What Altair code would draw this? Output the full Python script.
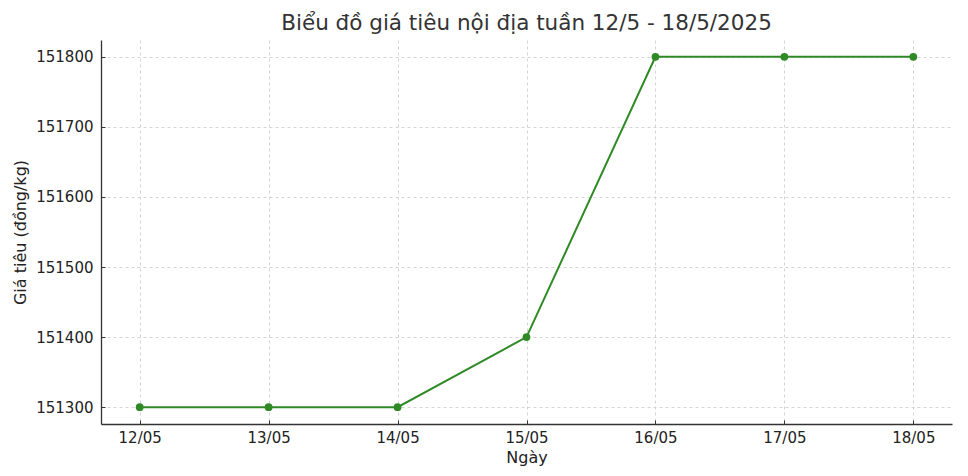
import altair as alt
import pandas as pd

dates = ["12/05", "13/05", "14/05", "15/05", "16/05", "17/05", "18/05"]
prices = [151300, 151300, 151300, 151400, 151800, 151800, 151800]
y_ticks = [151300, 151400, 151500, 151600, 151700, 151800]

df = pd.DataFrame({"date": dates, "price": prices})

FONT = "DejaVu Sans"
GREEN = "#2f8a26"
Y_DOMAIN = [151276, 151824]

x_enc = alt.X(
    "date:O",
    sort=dates,
    scale=alt.Scale(type="point", padding=0.3),
    axis=alt.Axis(
        title="Ngày",
        labelAngle=0,
        ticks=False,
        labelPadding=6,
        grid=True,
        gridDash=[3, 3],
        gridColor="#d4d4d4",
        domainColor="#333333",
        domainWidth=1.3,
        labelFontSize=15,
        titleFontSize=16,
        labelColor="#222222",
        titleColor="#222222",
        titleFontWeight="normal",
        titlePadding=4,
    ),
)
y_enc = alt.Y(
    "price:Q",
    scale=alt.Scale(domain=Y_DOMAIN, nice=False, zero=False),
    axis=alt.Axis(
        title="Giá tiêu (đồng/kg)",
        values=y_ticks,
        format="d",
        ticks=False,
        labelPadding=8,
        grid=True,
        gridDash=[3, 3],
        gridColor="#d4d4d4",
        domainColor="#333333",
        domainWidth=1.3,
        labelFontSize=15,
        titleFontSize=16,
        labelColor="#222222",
        titleColor="#222222",
        titleFontWeight="normal",
        titlePadding=7,
    ),
)

line = alt.Chart(df).mark_line(color=GREEN, strokeWidth=2).encode(x=x_enc, y=y_enc)

x_tick = alt.X(
    "date:O",
    sort=dates,
    scale=alt.Scale(type="point", padding=0.3),
    axis=alt.Axis(
        title=None, labels=False, domain=False, grid=False, ticks=True,
        tickSize=4, offset=-4, tickColor="#333333", orient="bottom",
    ),
)
y_tick = alt.Y(
    "price:Q",
    scale=alt.Scale(domain=Y_DOMAIN, nice=False, zero=False),
    axis=alt.Axis(
        title=None, labels=False, domain=False, grid=False, ticks=True,
        values=y_ticks, tickSize=4, offset=-4, tickColor="#333333", orient="left",
    ),
)
points = alt.Chart(df).mark_point(filled=True, color=GREEN, size=60, opacity=1).encode(
    x=x_tick, y=y_tick
)

chart = (
    alt.layer(line, points)
    .resolve_scale(x="independent", y="independent")
    .resolve_axis(x="independent", y="independent")
    .properties(
        width=851,
        height=384,
        title=alt.TitleParams(
            "Biểu đồ giá tiêu nội địa tuần 12/5 - 18/5/2025",
            fontSize=21.5,
            font=FONT,
            fontWeight="normal",
            color="#333333",
            anchor="middle",
            offset=6,
        ),
        autosize=alt.AutoSizeParams(type="none"),
        padding={"left": 93, "top": 32, "right": 8, "bottom": 44},
    )
    .configure(font=FONT)
    .configure_view(stroke=None)
)

chart.save("out.html", embed_options={"renderer": "svg", "actions": False})
